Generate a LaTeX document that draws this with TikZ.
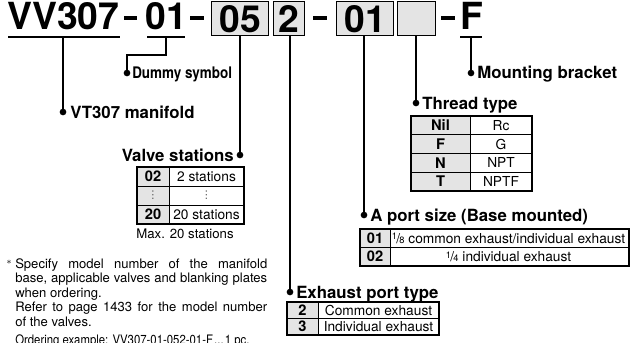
\documentclass[tikz,border=0pt]{standalone}
\usepackage{fontspec}
\setmainfont{TeX Gyre Heros}
\newfontfamily\djv{DejaVu Sans}
\definecolor{cellgray}{HTML}{E4E4E4}
\newcommand{\frc}[2]{\raisebox{0.45ex}{\fontsize{7pt}{7pt}\selectfont #1}\kern-0.05em/\kern-0.05em{\fontsize{7pt}{7pt}\selectfont #2}}
\newcommand{\smalldots}{{\djv\fontsize{8pt}{8pt}\selectfont ⋮}}
\begin{document}
\begin{tikzpicture}[x=0.75pt,y=-0.75pt,
  hdr/.style={font=\fontsize{28pt}{28pt}\selectfont\bfseries, inner sep=0},
  hbox/.style={draw, fill=cellgray, line width=1.1pt, inner sep=0, anchor=north west},
  lbl/.style={font=\fontsize{12.6pt}{14pt}\selectfont\bfseries, inner sep=0},
  conn/.style={line width=0.9pt},
  dashline/.style={line width=2.3pt},
  uline/.style={line width=1.3pt},
  dotmark/.style={circle, fill=black, inner sep=0, minimum size=5pt},
  tframe/.style={line width=0.9pt},
  tgrid/.style={line width=0.6pt},
  tb/.style={font=\fontsize{11pt}{12pt}\selectfont\bfseries, inner sep=0},
  tr/.style={font=\fontsize{10.3pt}{12pt}\selectfont, inner sep=0}
]
\clip (0,0) rectangle (641,342);
\useasboundingbox (0,0) rectangle (641,342);

% ---------- header ----------
\node[hdr, anchor=base west] (vv) at (7,30) {VV307};
\node[hdr, anchor=base west] (d1) at (145,30) {01};
\node[hbox, minimum width=42.75pt, minimum height=25.5pt] (b05) at (211,1) {};
\node[hdr] at (b05.center) {05};
\node[hbox, minimum width=23.25pt, minimum height=25.5pt] (b2) at (273,1) {};
\node[hdr] at (b2.center) {2};
\node[hbox, minimum width=42.75pt, minimum height=25.5pt] (b01) at (336,1) {};
\node[hdr] at (b01.center) {01};
\node[hbox, minimum width=28.5pt, minimum height=25.5pt] (bth) at (397,1) {};
\node[hdr, anchor=base west] (fF) at (460,30) {F};

\coordinate (u1a) at (8,37);   \coordinate (u1b) at (120,37);
\coordinate (u2a) at (147,37); \coordinate (u2b) at (185,37);
\coordinate (u3a) at (460,37); \coordinate (u3b) at (482,37);
\draw[uline] (u1a) -- (u1b);
\draw[uline] (u2a) -- (u2b);
\draw[uline] (u3a) -- (u3b);

\coordinate (m1a) at (124,18); \coordinate (m1b) at (137,18);
\coordinate (m2a) at (190,18); \coordinate (m2b) at (204,18);
\coordinate (m3a) at (313,18); \coordinate (m3b) at (327,18);
\coordinate (m4a) at (441,18); \coordinate (m4b) at (455,18);
\draw[dashline] (m1a) -- (m1b);
\draw[dashline] (m2a) -- (m2b);
\draw[dashline] (m3a) -- (m3b);
\draw[dashline] (m4a) -- (m4b);

% ---------- connectors ----------
\node[dotmark] (p1) at (63,112) {};
\draw[conn] (63,37) -- (p1.center);
\node[lbl, anchor=base west] at (70,118) {VT307 manifold};

\node[dotmark] (p2) at (127,73) {};
\draw[conn] (166,37) -- (166,55) -- (127,55) -- (p2.center);
\node[lbl, anchor=base west] at (132,79) {\scalebox{0.8}[0.95]{Dummy symbol}};

\node[dotmark] (p3) at (240,155) {};
\draw[conn] (b05.south -| p3) -- (p3.center);
\node[lbl, anchor=base east] at (234,161) {Valve stations};

\node[dotmark] (p4) at (290,292) {};
\draw[conn] (b2.south -| p4) -- (p4.center);
\node[lbl, anchor=base west] at (296,298) {Exhaust port type};

\node[dotmark] (p5) at (364,215) {};
\draw[conn] (b01.south -| p5) -- (p5.center);
\node[lbl, anchor=base west] at (370,221) {A port size (Base mounted)};

\node[dotmark] (p6) at (416,103) {};
\draw[conn] (bth.south -| p6) -- (p6.center);
\node[lbl, anchor=base west] at (422,109) {Thread type};

\node[dotmark] (p7) at (471,73) {};
\draw[conn] (471,37) -- (p7.center);
\node[lbl, anchor=base west] at (477,79) {Mounting bracket};

% ---------- valve stations table ----------
\fill[cellgray] (137,167) rectangle (169,224);
\draw[tgrid] (169,167) -- (169,224) (137,186) -- (244,186) (137,205) -- (244,205);
\draw[tframe] (137,167) rectangle (244,224);
\node[tb] at (153,176.5) {02};
\node[tr] at (206.5,176.5) {2 stations};
\node[inner sep=0, gray!70!black] at (153,195.5) {\smalldots};
\node[inner sep=0, gray!70!black] at (206.5,195.5) {\smalldots};
\node[tb] at (153,214.5) {20};
\node[tr] at (206.5,214.5) {20 stations};
\node[font=\fontsize{9.9pt}{11pt}\selectfont, inner sep=0] at (185,234) {Max. 20 stations};

% ---------- thread type table ----------
\fill[cellgray] (411,116) rectangle (470,191);
\draw[tgrid] (470,116) -- (470,191) (411,134.75) -- (532,134.75) (411,153.5) -- (532,153.5) (411,172.25) -- (532,172.25);
\draw[tframe] (411,116) rectangle (532,191);
\node[tb] at (440.5,125.4) {Nil};
\node[tr] at (501,125.4) {Rc};
\node[tb] at (440.5,144.1) {F};
\node[tr] at (501,144.1) {G};
\node[tb] at (440.5,162.9) {N};
\node[tr] at (501,162.9) {NPT};
\node[tb] at (440.5,181.6) {T};
\node[tr] at (501,181.6) {NPTF};

% ---------- A port size table ----------
\fill[cellgray] (360,229) rectangle (390,266);
\draw[tgrid] (390,229) -- (390,266) (360,247.5) -- (629,247.5);
\draw[tframe] (360,229) rectangle (629,266);
\node[tb] at (375,238.25) {01};
\node[tr] at (508.5,238.25) {\frc{1}{8} common exhaust/individual exhaust};
\node[tb] at (375,256.75) {02};
\node[tr] at (508.5,256.75) {\frc{1}{4} individual exhaust};

% ---------- exhaust port table ----------
\fill[cellgray] (287,302) rectangle (318,335);
\draw[tgrid] (318,302) -- (318,335) (287,318.5) -- (439,318.5);
\draw[tframe] (287,302) rectangle (439,335);
\node[tb] at (302.5,310.25) {2};
\node[tr] at (378.5,310.25) {Common exhaust};
\node[tb] at (302.5,326.75) {3};
\node[tr] at (378.5,326.75) {Individual exhaust};

% ---------- footnote ----------
\node[inner sep=0, font=\scriptsize] at (9,262) {$\ast$};
\node[inner sep=0, anchor=north west] (note) at (15,258) {\begin{minipage}[t]{189pt}\fontsize{9.8pt}{10.9pt}\selectfont
Specify model number of the manifold\linebreak base, applicable valves and blanking plates\linebreak when ordering.\par
Refer to page 1433 for the model number\linebreak of the valves.\par\vspace{2.6pt}
\mbox{\scalebox{0.87}[1]{Ordering example: VV307-01-052-01-F\kern1pt...\kern1pt1 pc.}}\end{minipage}};
\end{tikzpicture}
\end{document}
